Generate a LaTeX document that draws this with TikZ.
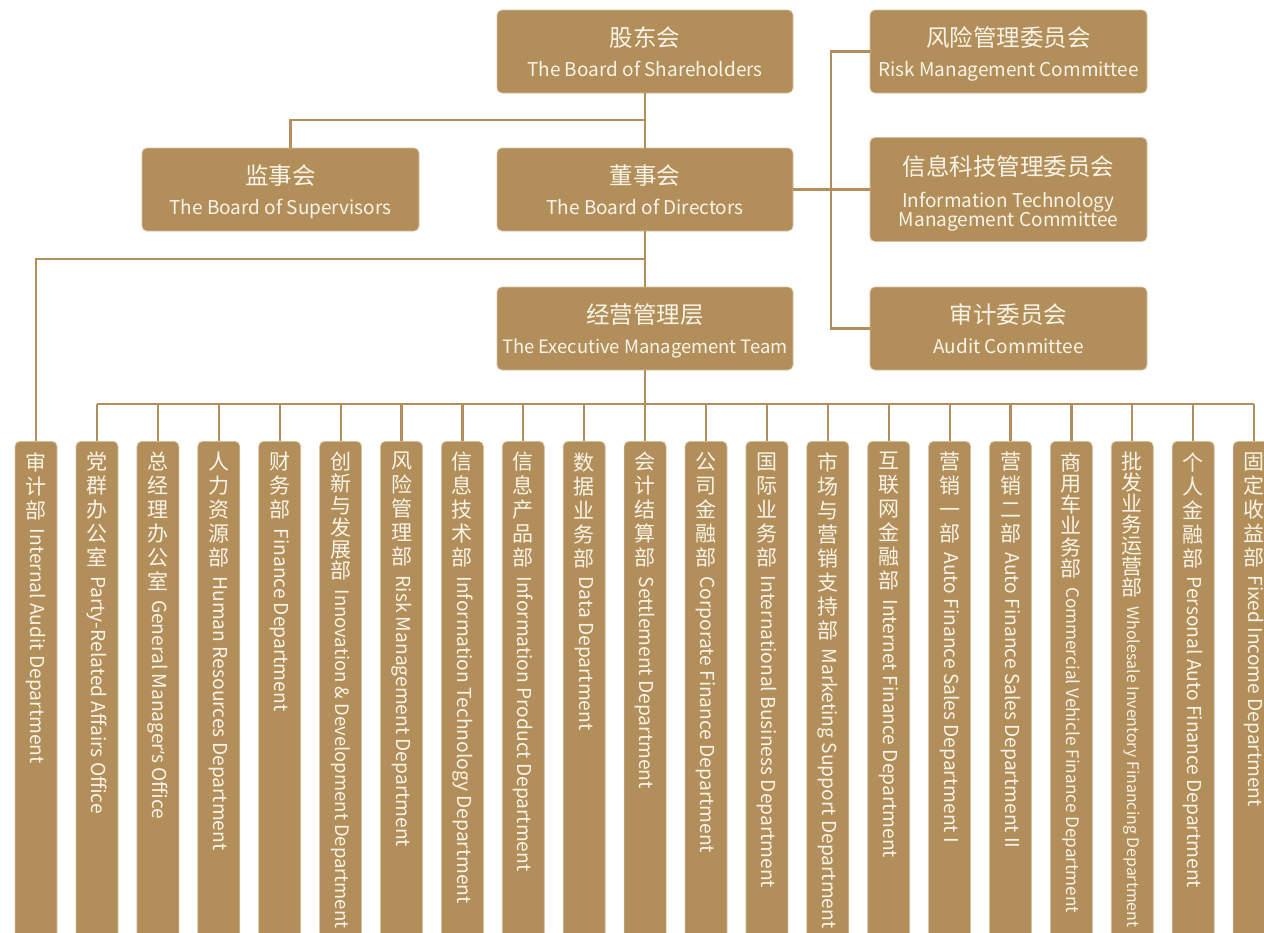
\documentclass[tikz,border=0pt]{standalone}
\usepackage{fontspec}
\setmainfont{Noto Sans CJK SC}
\newfontfamily\apofont{Noto Sans}
\usepackage{graphicx}
\definecolor{gold}{RGB}{178,143,90}
\definecolor{goldedge}{RGB}{214,193,160}
\definecolor{cream}{RGB}{250,244,232}
\tikzset{
  box/.style={fill=gold, draw=goldedge, line width=0.7pt, rounded corners=5pt, text=cream, align=center, inner sep=0pt},
  mainbox/.style={box, minimum width=296pt, minimum height=83pt, font=\fontsize{19}{24}\selectfont},
  sidebox/.style={box, minimum width=277pt, minimum height=83pt, font=\fontsize{19}{24}\selectfont},
  colbox/.style={box, anchor=north, minimum width=42pt, inner sep=1pt},
  conn/.style={draw=gold, line width=2.2pt},
}
\newcommand\zhbig{\fontsize{23.5}{26}\selectfont}
\newcommand\en[1]{\raisebox{0pt}[\height][0pt]{#1}}
\newcommand\colzh[1]{\fontsize{21}{#1}\selectfont}
% #1 name, #2 x, #3 pitch, #4 English size, #5 Chinese, #6 English
\newcommand\deptcol[6]{%
  \node[colbox] (#1) at (#2,441) {\parbox[t][530pt][t]{40pt}{\vspace*{10pt}\centering\colzh{#3}#5\par\nointerlineskip\vspace{9pt}\rotatebox{-90}{\fontsize{#4}{20}\selectfont #6}\par}};}
\begin{document}
\begin{tikzpicture}[x=1pt,y=-1pt]
\useasboundingbox (0,0) rectangle (1264,932);
\clip (0,0) rectangle (1264,932);
\fill[white] (0,0) rectangle (1264,932);

% top level boxes
\node[mainbox] (sh) at (645,51.5) {{\zhbig 股东会}\\[5.5pt]\en{The Board of Shareholders}};
\node[sidebox] (sup) at (280.5,189.5) {{\zhbig 监事会}\\[5.5pt]\en{The Board of Supervisors}};
\node[mainbox] (dir) at (645,189.5) {{\zhbig 董事会}\\[5.5pt]\en{The Board of Directors}};
\node[mainbox] (ex) at (645,328.5) {{\zhbig 经营管理层}\\[5.5pt]\en{\fontsize{18.4}{24}\selectfont The Executive Management Team}};
\node[sidebox] (risk) at (1008.5,51.5) {{\zhbig 风险管理委员会}\\[5.5pt]\en{Risk Management Committee}};
\node[sidebox, minimum height=104pt] (it) at (1008.5,189.5) {{\zhbig \rule{0pt}{22.5pt}信息科技管理委员会}\\[7.5pt]\en{Information Technology}\\[-5pt]\en{Management Committee}};
\node[sidebox] (aud) at (1008.5,328.5) {{\zhbig 审计委员会}\\[5.5pt]\en{Audit Committee}};

% department columns
\deptcol{c1}{36}{24}{19.2}{审\\计\\部}{Internal Audit Department}
\deptcol{c2}{97}{24}{19.2}{党\\群\\办\\公\\室}{Party-Related Affairs Office}
\deptcol{c3}{157.9}{24}{19.2}{总\\经\\理\\办\\公\\室}{General Manager{\apofont\fontsize{17}{20}\selectfont ’}s Office}
\deptcol{c4}{218.8}{24}{19.2}{人\\力\\资\\源\\部}{Human Resources Department}
\deptcol{c5}{279.7}{24}{19.2}{财\\务\\部}{Finance Department}
\deptcol{c6}{340.6}{21.8}{18.5}{创\\新\\与\\发\\展\\部}{Innovation \& Development Department}
\deptcol{c7}{401.5}{24}{19.2}{风\\险\\管\\理\\部}{Risk Management Department}
\deptcol{c8}{462.4}{24}{19.2}{信\\息\\技\\术\\部}{Information Technology Department}
\deptcol{c9}{523.3}{24}{19.2}{信\\息\\产\\品\\部}{Information Product Department}
\deptcol{c10}{584.2}{24}{19.2}{数\\据\\业\\务\\部}{Data Department}
\deptcol{c11}{645.1}{24}{19.2}{会\\计\\结\\算\\部}{Settlement Department}
\deptcol{c12}{706}{24}{19.2}{公\\司\\金\\融\\部}{Corporate Finance Department}
\deptcol{c13}{766.9}{24}{19.2}{国\\际\\业\\务\\部}{International Business Department}
\deptcol{c14}{827.8}{24}{19.2}{市\\场\\与\\营\\销\\支\\持\\部}{Marketing Support Department}
\deptcol{c15}{888.7}{24}{19.2}{互\\联\\网\\金\\融\\部}{Internet Finance Department}
\deptcol{c16}{949.6}{24}{19.2}{营\\销\\一\\部}{Auto Finance Sales Department I}
\deptcol{c17}{1010.5}{24}{19.2}{营\\销\\二\\部}{Auto Finance Sales Department II}
\deptcol{c18}{1071.4}{21.3}{17.2}{商\\用\\车\\业\\务\\部}{Commercial Vehicle Finance Department}
\deptcol{c19}{1132.3}{21}{15.9}{批\\发\\业\\务\\运\\营\\部}{Wholesale Inventory Financing Department}
\deptcol{c20}{1193.2}{24}{19.2}{个\\人\\金\\融\\部}{Personal Auto Finance Department}
\deptcol{c21}{1254.1}{24}{19.2}{固\\定\\收\\益\\部}{Fixed Income Department}

% junction points
\coordinate (jA) at (645,120);
\coordinate (jB) at (645,259);
\coordinate (jC) at (645,404);
\coordinate (cb) at (831,0);

% connectors
\draw[conn] (sh.south) -- (dir.north);
\draw[conn] (jA) -| ([xshift=10pt]sup.north);
\draw[conn] (risk.west) -- (risk.west -| cb) -- (aud.west -| cb) -- (aud.west);
\draw[conn] (dir.east) -- (it.west);
\draw[conn] (dir.south) -- (ex.north);
\draw[conn] (jB) -| (c1.north);
\draw[conn] (ex.south) -- (jC);
\draw[conn] (c2.north |- jC) -- (c21.north |- jC);
\foreach \i in {2,...,21} {\draw[conn] (c\i.north |- jC) -- (c\i.north);}
\end{tikzpicture}
\end{document}
